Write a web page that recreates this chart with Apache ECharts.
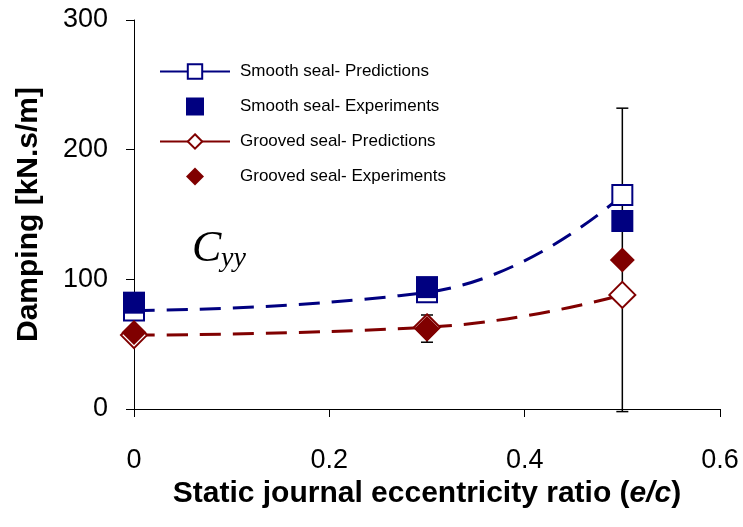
<!DOCTYPE html>
<html>
<head>
<meta charset="utf-8">
<script src="https://cdn.jsdelivr.net/npm/echarts@6/dist/echarts.min.js"></script>
<style>
  html, body { margin: 0; padding: 0; background: #fff; }
  #chart { width: 743px; height: 527px; }
</style>
</head>
<body>
<div id="chart"></div>
<script>
// eccentricity ratios (e/c)
var ecc = [0, 0.3, 0.5];
var smoothPred = [76, 90, 165];
var smoothExp = [82, 94, 145];
var groovedPred = [57, 63, 88];
var groovedExp = [59, 62, 115];
// error bars on grooved seal experiments
var groovedErrLow = [null, 51.5, -2];
var groovedErrHigh = [null, 72.5, 232];
var xTicks = [0, 0.2, 0.4, 0.6];
var yTicks = [0, 100, 200, 300];

var NAVY = '#000080';
var MAROON = '#800000';

function pairs(xs, ys) {
    var out = [];
    for (var i = 0; i < xs.length; i++) out.push([xs[i], ys[i]]);
    return out;
}

var errData = [];
for (var i = 0; i < ecc.length; i++) {
    if (groovedErrLow[i] !== null) errData.push([ecc[i], groovedErrLow[i], groovedErrHigh[i]]);
}

var chart = echarts.init(document.getElementById('chart'));

var option = {
    animation: false,
    backgroundColor: '#fff',
    grid: { left: 134, right: 23, top: 20, bottom: 118 },
    legend: {
        orient: 'vertical',
        left: 154,
        top: 58,
        itemWidth: 70,
        itemHeight: 18,
        itemGap: 17.5,
        selectedMode: false,
        symbolKeepAspect: true,
        lineStyle: { type: 'solid' },
        textStyle: { fontFamily: 'Liberation Sans', fontSize: 17, color: '#000', padding: [0, 0, 0, 5] },
        data: [
            { name: 'Smooth seal- Predictions' },
            { name: 'Smooth seal- Experiments', icon: 'path://M0,0H10V10H0Z' },
            { name: 'Grooved seal- Predictions' },
            { name: 'Grooved seal- Experiments', icon: 'path://M5,0L10,5L5,10L0,5Z' }
        ]
    },
    xAxis: {
        type: 'value',
        min: 0,
        max: 0.6,
        interval: 0.2,
        name: 'Static journal eccentricity ratio ({i|e/c})',
        nameLocation: 'middle',
        nameGap: 68,
        nameTextStyle: {
            fontFamily: 'Liberation Sans', fontWeight: 'bold', fontSize: 30, color: '#000',
            rich: { i: { fontFamily: 'Liberation Sans', fontWeight: 'bold', fontStyle: 'italic', fontSize: 30, color: '#000' } }
        },
        axisLine: { lineStyle: { color: '#000', width: 1 } },
        axisTick: { length: 8, lineStyle: { color: '#000' } },
        axisLabel: {
            margin: 38, fontFamily: 'Liberation Sans', fontSize: 27, color: '#000',
            formatter: function (v) { return xTicks.indexOf(Math.round(v * 10) / 10) >= 0 ? String(Math.round(v * 10) / 10) : ''; }
        },
        splitLine: { show: false }
    },
    yAxis: {
        type: 'value',
        min: 0,
        max: 300,
        interval: 100,
        name: 'Damping [kN.s/m]',
        nameLocation: 'middle',
        nameGap: 90,
        nameTextStyle: { fontFamily: 'Liberation Sans', fontWeight: 'bold', fontSize: 30, color: '#000' },
        axisLine: { show: true, lineStyle: { color: '#000', width: 1 } },
        axisTick: { show: true, length: 8, lineStyle: { color: '#000' } },
        axisLabel: {
            margin: 26, fontFamily: 'Liberation Sans', fontSize: 27, color: '#000',
            formatter: function (v) { return yTicks.indexOf(v) >= 0 ? String(v) : ''; }
        },
        splitLine: { show: false }
    },
    graphic: [
        { type: 'text', left: 192, top: 227, z: 10,
          style: { text: 'C', fontFamily: 'Liberation Serif', fontStyle: 'italic', fontSize: 44, fill: '#000' } },
        { type: 'text', left: 221, top: 245, z: 10,
          style: { text: 'yy', fontFamily: 'Liberation Serif', fontStyle: 'italic', fontSize: 28, fill: '#000' } }
    ],
    series: [
        {
            name: 'errors',
            type: 'custom',
            z: 1,
            data: errData,
            encode: { x: 0, y: [1, 2] },
            renderItem: function (params, api) {
                var x = api.value(0);
                var lo = api.coord([x, api.value(1)]);
                var hi = api.coord([x, api.value(2)]);
                var cap = 6;
                var st = { stroke: '#000', lineWidth: 1.5 };
                return {
                    type: 'group',
                    children: [
                        { type: 'line', shape: { x1: lo[0], y1: lo[1], x2: hi[0], y2: hi[1] }, style: st },
                        { type: 'line', shape: { x1: lo[0] - cap, y1: lo[1], x2: lo[0] + cap, y2: lo[1] }, style: st },
                        { type: 'line', shape: { x1: hi[0] - cap, y1: hi[1], x2: hi[0] + cap, y2: hi[1] }, style: st }
                    ]
                };
            }
        },
        {
            name: 'Smooth seal- Predictions',
            type: 'line',
            z: 2,
            smooth: 0.5,
            data: pairs(ecc, smoothPred),
            symbol: 'emptyRect',
            symbolSize: 20,
            itemStyle: { color: NAVY, borderWidth: 2 },
            lineStyle: { color: NAVY, width: 3, type: [21, 12] }
        },
        {
            name: 'Grooved seal- Predictions',
            type: 'line',
            z: 2,
            smooth: 0.5,
            data: pairs(ecc, groovedPred),
            symbol: 'emptyDiamond',
            symbolSize: 26,
            itemStyle: { color: MAROON, borderWidth: 2 },
            lineStyle: { color: MAROON, width: 3, type: [21, 12] }
        },
        {
            name: 'Smooth seal- Experiments',
            type: 'scatter',
            z: 3,
            data: pairs(ecc, smoothExp),
            symbol: 'rect',
            symbolSize: 22,
            itemStyle: { color: NAVY, opacity: 1 }
        },
        {
            name: 'Grooved seal- Experiments',
            type: 'scatter',
            z: 3,
            data: pairs(ecc, groovedExp),
            symbol: 'diamond',
            symbolSize: 25,
            itemStyle: { color: MAROON, opacity: 1 }
        }
    ]
};

chart.setOption(option);
</script>
</body>
</html>
